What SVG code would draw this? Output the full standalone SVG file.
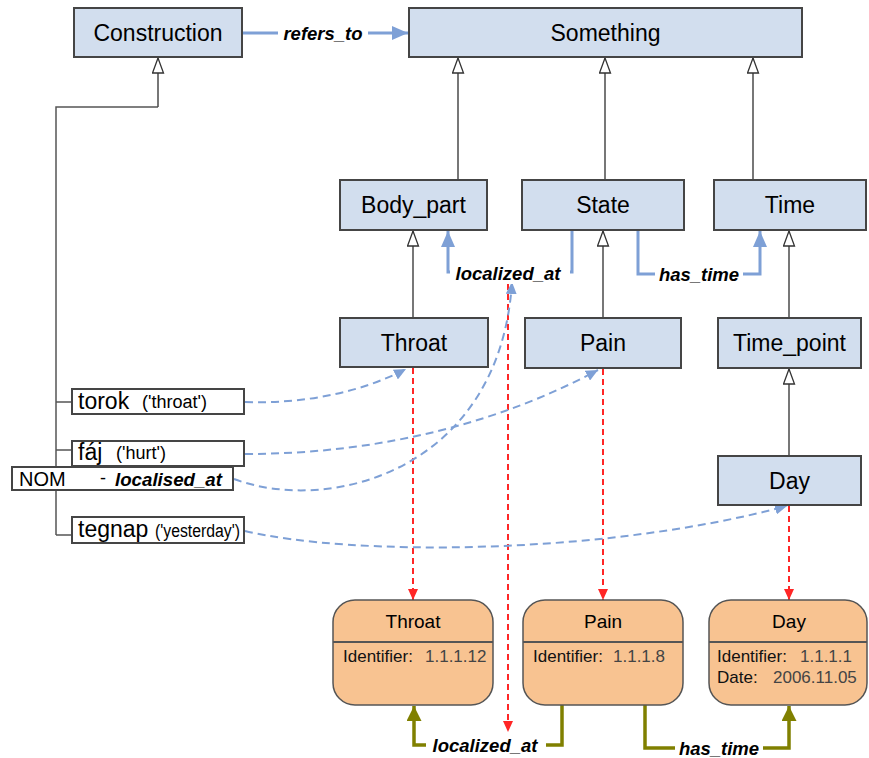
<svg xmlns="http://www.w3.org/2000/svg" width="869" height="758" viewBox="0 0 869 758">
<style>
.cls rect{fill:#d2deee;stroke:#454545;stroke-width:2}
.cls text{font-family:"Liberation Sans",Arial,sans-serif;font-size:23px;fill:#000;text-anchor:middle;dominant-baseline:central}
.word rect{fill:#fff;stroke:#454545;stroke-width:2}
.w1{font-family:"Liberation Sans",Arial,sans-serif;font-size:23px;fill:#000;dominant-baseline:central}
.w2{font-family:"Liberation Sans",Arial,sans-serif;font-size:18px;fill:#000;dominant-baseline:central}
.inst rect{fill:#f8c391;stroke:#555;stroke-width:1.5}
.inst line{stroke:#555;stroke-width:2}
.it{font-family:"Liberation Sans",Arial,sans-serif;font-size:19px;fill:#000;text-anchor:middle;dominant-baseline:central}
.ak{font-family:"Liberation Sans",Arial,sans-serif;font-size:17px;fill:#111;dominant-baseline:central}
.av{font-family:"Liberation Sans",Arial,sans-serif;font-size:17px;fill:#444;dominant-baseline:central}
.lbl{font-family:"Liberation Sans",Arial,sans-serif;font-size:18.5px;font-weight:bold;font-style:italic;fill:#000;text-anchor:middle;dominant-baseline:central}
.inh{fill:none;stroke:#4a4a4a;stroke-width:1.5;marker-end:url(#tri)}
.tree{fill:none;stroke:#555;stroke-width:1.5}
.rel{fill:none;stroke:#7ea0d6;stroke-width:3;marker-end:url(#barr)}
.ref{fill:none;stroke:#7ea0d6;stroke-width:2;stroke-dasharray:8 5;marker-end:url(#barr2)}
.red{fill:none;stroke:#ff2626;stroke-width:2;stroke-dasharray:6 4;marker-end:url(#rarr)}
.grna{fill:none;stroke:#808000;stroke-width:3.5;marker-end:url(#garr)}
</style>
<defs>
<marker id="tri" markerUnits="userSpaceOnUse" markerWidth="17" markerHeight="13" refX="16" refY="6.5" orient="auto">
<path d="M1,1 L16,6.5 L1,12 z" fill="#fff" stroke="#333" stroke-width="1.3"/>
</marker>
<marker id="barr" markerUnits="userSpaceOnUse" markerWidth="16" markerHeight="14" refX="16" refY="7" orient="auto">
<path d="M0,0 L16,7 L0,14 z" fill="#7ea0d6"/>
</marker>
<marker id="barr2" markerUnits="userSpaceOnUse" markerWidth="12" markerHeight="11" refX="12" refY="5.5" orient="auto">
<path d="M0,0 L12,5.5 L0,11 z" fill="#7ea0d6"/>
</marker>
<marker id="rarr" markerUnits="userSpaceOnUse" markerWidth="11" markerHeight="10" refX="11" refY="5" orient="auto">
<path d="M0,0 L11,5 L0,10 z" fill="#ff2626"/>
</marker>
<marker id="garr" markerUnits="userSpaceOnUse" markerWidth="15" markerHeight="15" refX="15" refY="7.5" orient="auto">
<path d="M0,0 L15,7.5 L0,15 z" fill="#808000"/>
</marker>
</defs>
<rect x="0" y="0" width="869" height="758" fill="#fff"/>

<g id="connectors">
<path class="tree" d="M56,535 L56,107 L158,107"/>
<path class="inh" d="M158,107 L158,58"/>
<path class="tree" d="M56,402 L72,402 M56,450 L72,450 M56,535 L72,535"/>
<path class="inh" d="M458,180 L458,58"/>
<path class="inh" d="M605,180 L605,58"/>
<path class="inh" d="M753,180 L753,58"/>
<path class="inh" d="M413,318 L413,231"/>
<path class="inh" d="M603,318 L603,231"/>
<path class="inh" d="M789,318 L789,231"/>
<path class="inh" d="M789,456 L789,369"/>
<path class="rel" d="M242,33 L408,33"/>
<path class="rel" d="M572,231 L572,272 L448,272 L448,231"/>
<path class="rel" d="M638,231 L638,274 L760,274 L760,231"/>
<path class="red" d="M413,368 L413,600"/>
<path class="red" d="M603,369 L603,600"/>
<path class="red" d="M789,506 L789,600"/>
<path class="red" d="M508,284 L508,732"/>
<path class="ref" d="M245,402 C305,404 362,392 406,369"/>
<path class="ref" d="M245,454 C385,454 505,420 598,370"/>
<path class="ref" d="M234,479 C330,515 500,470 512,282"/>
<path class="ref" d="M245,531 C350,556 600,556 787,506"/>
<path class="grna" d="M562,705 L562,745 L414,745 L414,706"/>
<path class="grna" d="M645,705 L645,748 L789,748 L789,706"/>
<rect x="278" y="22" width="90" height="22" fill="#fff"/>
<text class="lbl" x="323" y="33">refers_to</text>
<rect x="450" y="264" width="120" height="20" fill="#fff"/>
<text class="lbl" x="508" y="273">localized_at</text>
<rect x="655" y="265" width="88" height="20" fill="#fff"/>
<text class="lbl" x="699" y="274">has_time</text>
<rect x="426" y="734" width="120" height="22" fill="#fff"/>
<text class="lbl" x="485" y="745">localized_at</text>
<rect x="675" y="737" width="88" height="21" fill="#fff"/>
<text class="lbl" x="719" y="748">has_time</text>
</g>

<g id="Construction" class="cls"><rect x="74" y="8" width="168" height="49"/><text x="158" y="33">Construction</text></g>
<g id="Something" class="cls"><rect x="409" y="8" width="393" height="49"/><text x="605.5" y="33">Something</text></g>
<g id="Body_part" class="cls"><rect x="340" y="180" width="147" height="50"/><text x="413.5" y="205">Body_part</text></g>
<g id="State" class="cls"><rect x="522" y="180" width="162" height="50"/><text x="603" y="205">State</text></g>
<g id="Time" class="cls"><rect x="714" y="180" width="152" height="50"/><text x="790" y="205">Time</text></g>
<g id="Throat" class="cls"><rect x="340" y="318" width="148" height="49"/><text x="414" y="343">Throat</text></g>
<g id="Pain" class="cls"><rect x="525" y="318" width="156" height="50"/><text x="603" y="343">Pain</text></g>
<g id="Time_point" class="cls"><rect x="718" y="318" width="143" height="50"/><text x="789.5" y="343">Time_point</text></g>
<g id="Day" class="cls"><rect x="718" y="456" width="143" height="49"/><text x="789.5" y="481">Day</text></g>

<g id="torok" class="word"><rect x="72" y="389" width="172" height="25"/><text class="w1" x="78" y="401">torok</text><text class="w2" x="142" y="402">('throat')</text></g>
<g id="faj" class="word"><rect x="72" y="441" width="172" height="25"/><text class="w1" x="78" y="452">fáj</text><text class="w2" x="116" y="453">('hurt')</text></g>
<g id="NOM" class="word"><rect x="12" y="467" width="221" height="23"/><text x="19" y="479" font-family="Liberation Sans, Arial, sans-serif" font-size="20" dominant-baseline="central">NOM</text><text x="100" y="478" font-family="Liberation Sans, Arial, sans-serif" font-size="18" dominant-baseline="central">-</text><text x="115" y="479" font-family="Liberation Sans, Arial, sans-serif" font-size="18.7" font-weight="bold" font-style="italic" dominant-baseline="central">localised_at</text></g>
<g id="tegnap" class="word"><rect x="72" y="517" width="172" height="26"/><text class="w1" x="78" y="529">tegnap</text><text class="w2" x="155" y="531" font-size="15.5" textLength="85" lengthAdjust="spacingAndGlyphs">('yesterday')</text></g>

<g id="Throat_inst" class="inst"><rect x="333" y="600" width="160" height="105" rx="22" ry="22"/><line x1="333" y1="642" x2="493" y2="642"/><text class="it" x="413" y="621">Throat</text><text class="ak" x="343" y="656">Identifier:</text><text class="av" x="425" y="656">1.1.1.12</text></g>
<g id="Pain_inst" class="inst"><rect x="523" y="600" width="160" height="105" rx="22" ry="22"/><line x1="523" y1="642" x2="683" y2="642"/><text class="it" x="603" y="621">Pain</text><text class="ak" x="533" y="656">Identifier:</text><text class="av" x="613" y="656">1.1.1.8</text></g>
<g id="Day_inst" class="inst"><rect x="709" y="600" width="158" height="105" rx="22" ry="22"/><line x1="709" y1="642" x2="867" y2="642"/><text class="it" x="789" y="621">Day</text><text class="ak" x="717" y="656">Identifier:</text><text class="av" x="800" y="656">1.1.1.1</text><text class="ak" x="717" y="677">Date:</text><text class="av" x="773" y="677">2006.11.05</text></g>
</svg>
